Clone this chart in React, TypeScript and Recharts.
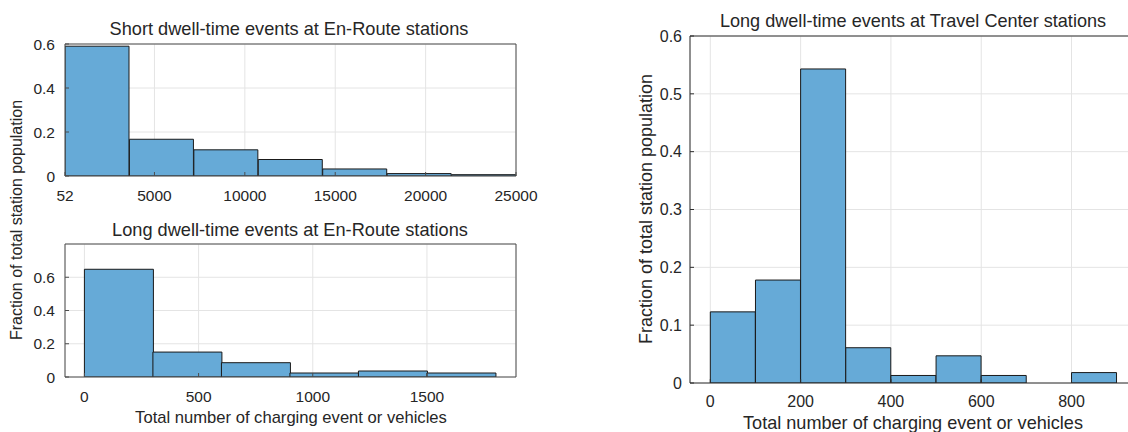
import React from 'react'
import {
  ComposedChart,
  Bar,
  XAxis,
  YAxis,
  CartesianGrid,
} from 'recharts'

// bin edges and fraction of stations in each bin
const shortEnrouteEdges = [52, 3616, 7180, 10744, 14308, 17872, 21436, 25000]
const shortEnrouteFrac = [0.59, 0.167, 0.119, 0.075, 0.032, 0.011, 0.006]
const shortEnrouteXTicks = [52, 5000, 10000, 15000, 20000, 25000]
const shortEnrouteYTicks = [0, 0.2, 0.4, 0.6]

const longEnrouteEdges = [0, 300, 600, 900, 1200, 1500, 1800]
const longEnrouteFrac = [0.648, 0.15, 0.086, 0.024, 0.036, 0.024]
const longEnrouteXTicks = [0, 500, 1000, 1500]
const longEnrouteYTicks = [0, 0.2, 0.4, 0.6]

const travelCenterEdges = [0, 100, 200, 300, 400, 500, 600, 700, 800, 900]
const travelCenterFrac = [0.123, 0.178, 0.543, 0.061, 0.013, 0.047, 0.013, 0, 0.018]
const travelCenterXTicks = [0, 200, 400, 600, 800]
const travelCenterYTicks = [0, 0.1, 0.2, 0.3, 0.4, 0.5, 0.6]

const colors = {
  bar: '#66aad7',
  edge: '#1a1a1a',
  grid: '#e4e4e4',
  box: '#4d4d4d',
  text: '#262626',
}

const FONT = '"Liberation Sans", Arial, Helvetica, sans-serif'

interface Bin {
  mid: number
  frac: number
}

const toBins = (edges: number[], frac: number[]): Bin[] =>
  frac.map((f, i) => ({ mid: (edges[i] + edges[i + 1]) / 2, frac: f }))

interface HistProps {
  bins: Bin[]
  xDomain: [number, number]
  yDomain: [number, number]
  xTicks: number[]
  yTicks: number[]
  width: number
  height: number
  top: number
  right: number
  yAxisWidth: number
  xAxisHeight: number
  fontSize: number
  yTickMargin: number
  xTickMargin: number
  boxColor: string
}

function Histogram(p: HistProps) {
  const tick = { fill: colors.text, fontSize: p.fontSize, fontFamily: FONT }
  return (
    <ComposedChart
      width={p.width}
      height={p.height}
      data={p.bins}
      margin={{ top: p.top, right: p.right, bottom: 0, left: 0 }}
      barCategoryGap={0}
      barGap={0}
    >
      <CartesianGrid stroke={colors.grid} strokeWidth={1} />
      <XAxis
        dataKey="mid"
        type="number"
        domain={p.xDomain}
        ticks={p.xTicks}
        interval={0}
        allowDataOverflow
        height={p.xAxisHeight}
        tick={tick}
        tickSize={-4}
        tickMargin={p.xTickMargin}
        tickLine={{ stroke: p.boxColor }}
        axisLine={{ stroke: p.boxColor }}
      />
      {/* top and right axes only close the box */}
      <XAxis
        xAxisId="top"
        orientation="top"
        type="number"
        domain={p.xDomain}
        ticks={p.xTicks}
        allowDataOverflow
        height={1}
        tick={false}
        tickSize={-4}
        tickLine={{ stroke: p.boxColor }}
        axisLine={{ stroke: p.boxColor }}
      />
      <YAxis
        type="number"
        domain={p.yDomain}
        ticks={p.yTicks}
        interval={0}
        allowDataOverflow
        width={p.yAxisWidth}
        tick={tick}
        tickSize={-4}
        tickMargin={p.yTickMargin}
        tickLine={{ stroke: p.boxColor }}
        axisLine={{ stroke: p.boxColor }}
      />
      <YAxis
        yAxisId="right"
        orientation="right"
        type="number"
        domain={p.yDomain}
        ticks={p.yTicks}
        allowDataOverflow
        width={1}
        tick={false}
        tickSize={-4}
        tickLine={{ stroke: p.boxColor }}
        axisLine={{ stroke: p.boxColor }}
      />
      <Bar
        dataKey="frac"
        fill={colors.bar}
        stroke={colors.edge}
        strokeWidth={1}
        isAnimationActive={false}
      />
    </ComposedChart>
  )
}

function Text({
  x,
  y,
  size,
  rotate,
  children,
}: {
  x: number
  y: number
  size: number
  rotate?: boolean
  children: React.ReactNode
}) {
  return (
    <div
      style={{
        position: 'absolute',
        left: x,
        top: y,
        transform: `translate(-50%, -50%)${rotate ? ' rotate(-90deg)' : ''}`,
        whiteSpace: 'nowrap',
        fontSize: size,
        lineHeight: 1,
        color: colors.text,
        fontFamily: FONT,
      }}
    >
      {children}
    </div>
  )
}

export default function App() {
  return (
    <div
      style={{
        position: 'fixed',
        left: 0,
        top: 0,
        width: 1128,
        height: 432,
        overflow: 'hidden',
        background: '#fff',
      }}
    >
      <div style={{ position: 'absolute', left: 0, top: 0 }}>
        <Histogram
          bins={toBins(shortEnrouteEdges, shortEnrouteFrac)}
          xDomain={[52, 25000]}
          yDomain={[0, 0.6]}
          xTicks={shortEnrouteXTicks}
          yTicks={shortEnrouteYTicks}
          width={540}
          height={210}
          top={43}
          right={23}
          yAxisWidth={65}
          xAxisHeight={34}
          fontSize={15.5}
          yTickMargin={14}
          xTickMargin={18}
          boxColor={colors.box}
        />
      </div>
      <div style={{ position: 'absolute', left: 0, top: 214 }}>
        <Histogram
          bins={toBins(longEnrouteEdges, longEnrouteFrac)}
          xDomain={[-85, 1890]}
          yDomain={[0, 0.8]}
          xTicks={longEnrouteXTicks}
          yTicks={longEnrouteYTicks}
          width={540}
          height={197}
          top={29}
          right={23}
          yAxisWidth={65}
          xAxisHeight={34}
          fontSize={15.5}
          yTickMargin={14}
          xTickMargin={18}
          boxColor={colors.box}
        />
      </div>
      <div style={{ position: 'absolute', left: 620, top: 0 }}>
        <Histogram
          bins={toBins(travelCenterEdges, travelCenterFrac)}
          xDomain={[-45, 945]}
          yDomain={[0, 0.6]}
          xTicks={travelCenterXTicks}
          yTicks={travelCenterYTicks}
          width={530}
          height={416}
          top={35}
          right={12}
          yAxisWidth={70}
          xAxisHeight={33}
          fontSize={16}
          yTickMargin={12}
          xTickMargin={17}
          boxColor="#2e2e2e"
        />
      </div>

      <Text x={289} y={29} size={18.2}>Short dwell-time events at En-Route stations</Text>
      <Text x={290} y={230} size={18.2}>Long dwell-time events at En-Route stations</Text>
      <Text x={291} y={418} size={16.6}>Total number of charging event or vehicles</Text>
      <Text x={17} y={220} size={16} rotate>Fraction of total station population</Text>

      <Text x={913} y={21} size={18.1}>Long dwell-time events at Travel Center stations</Text>
      <Text x={913} y={423} size={18.1}>Total number of charging event or vehicles</Text>
      <Text x={646} y={209} size={18} rotate>Fraction of total station population</Text>
    </div>
  )
}
